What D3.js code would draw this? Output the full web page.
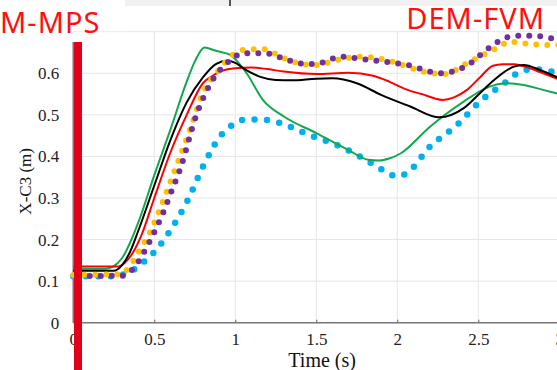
<!DOCTYPE html>
<html>
<head>
<meta charset="utf-8">
<script src="https://cdn.jsdelivr.net/npm/d3@7"></script>
<style>
  body { margin: 0; background: #fff; }
  svg { display: block; }
  .tick text { font-family: "Liberation Serif", serif; font-size: 17px; fill: #222; }
  .grid line { stroke: #e6e6e6; stroke-width: 1; }
  .tag { font-family: "Noto Sans", sans-serif; font-size: 29px; fill: #ff1010; letter-spacing: 1px; }
</style>
</head>
<body>
<script>
// tick labels
var xTicks = [0, 0.5, 1, 1.5, 2, 2.5, 3];
var yTicks = [0, 0.1, 0.2, 0.3, 0.4, 0.5, 0.6];
var yGrid = [0.1, 0.2, 0.3, 0.4, 0.5, 0.6, 0.7];

// series (time, value)
var blackT = [0, 0.25, 0.3, 0.35, 0.4, 0.5, 0.6, 0.7, 0.8, 0.88, 0.95, 1.0, 1.05, 1.15, 1.25, 1.35, 1.5, 1.6, 1.75, 1.9, 2.08, 2.26, 2.41, 2.51, 2.61, 2.72, 2.78, 2.88, 3.0];
var blackV = [0.125, 0.125, 0.138, 0.17, 0.22, 0.33, 0.44, 0.53, 0.59, 0.622, 0.63, 0.625, 0.612, 0.592, 0.584, 0.583, 0.587, 0.588, 0.576, 0.548, 0.52, 0.494, 0.516, 0.552, 0.588, 0.616, 0.62, 0.608, 0.588];

var redT = [0, 0.27, 0.32, 0.37, 0.42, 0.5, 0.6, 0.7, 0.8, 0.86, 0.92, 1.0, 1.1, 1.2, 1.3, 1.5, 1.7, 1.85, 1.95, 2.05, 2.15, 2.28, 2.35, 2.43, 2.51, 2.59, 2.65, 2.72, 2.82, 2.9, 3.0];
var redV = [0.135, 0.135, 0.145, 0.17, 0.21, 0.3, 0.41, 0.5, 0.576, 0.594, 0.606, 0.612, 0.614, 0.61, 0.604, 0.598, 0.601, 0.594, 0.58, 0.562, 0.55, 0.536, 0.542, 0.56, 0.59, 0.618, 0.622, 0.622, 0.612, 0.6, 0.585];

var greenT = [0, 0.2, 0.25, 0.3, 0.4, 0.5, 0.6, 0.7, 0.75, 0.81, 0.88, 0.97, 1.02, 1.07, 1.17, 1.3, 1.5, 1.7, 1.82, 1.89, 1.95, 2.02, 2.2, 2.41, 2.57, 2.68, 2.78, 2.9, 3.0];
var greenV = [0.13, 0.13, 0.136, 0.155, 0.24, 0.355, 0.465, 0.58, 0.628, 0.662, 0.654, 0.644, 0.625, 0.6, 0.536, 0.496, 0.456, 0.415, 0.392, 0.39, 0.395, 0.407, 0.471, 0.532, 0.568, 0.576, 0.572, 0.56, 0.55];

var blueT = [0, 0.25, 0.3, 0.35, 0.41, 0.5, 0.6, 0.7, 0.8, 0.9, 1.0, 1.07, 1.19, 1.34, 1.46, 1.63, 1.81, 1.92, 2.0, 2.06, 2.2, 2.37, 2.51, 2.66, 2.76, 2.84, 2.96, 3.0];
var blueV = [0.112, 0.112, 0.115, 0.122, 0.139, 0.17, 0.223, 0.29, 0.375, 0.445, 0.48, 0.489, 0.488, 0.471, 0.451, 0.427, 0.391, 0.365, 0.352, 0.36, 0.423, 0.476, 0.532, 0.576, 0.604, 0.61, 0.604, 0.603];

var yellowT = [0, 0.29, 0.35, 0.41, 0.47, 0.52, 0.58, 0.64, 0.72, 0.8, 0.9, 0.97, 1.05, 1.11, 1.17, 1.3, 1.42, 1.5, 1.63, 1.77, 1.91, 2.0, 2.16, 2.3, 2.41, 2.51, 2.63, 2.69, 2.78, 2.92, 3.0];
var yellowV = [0.115, 0.117, 0.136, 0.175, 0.215, 0.259, 0.319, 0.38, 0.464, 0.552, 0.608, 0.64, 0.656, 0.658, 0.658, 0.636, 0.622, 0.62, 0.632, 0.64, 0.634, 0.624, 0.604, 0.598, 0.62, 0.64, 0.664, 0.676, 0.672, 0.668, 0.668];

var purpleT = [0, 0.3, 0.37, 0.43, 0.49, 0.55, 0.6, 0.66, 0.76, 0.86, 0.95, 1.05, 1.12, 1.19, 1.32, 1.44, 1.52, 1.65, 1.79, 1.92, 2.06, 2.27, 2.45, 2.55, 2.66, 2.72, 2.85, 2.97, 3.0];
var purpleV = [0.112, 0.113, 0.13, 0.165, 0.21, 0.26, 0.31, 0.37, 0.5, 0.584, 0.625, 0.648, 0.648, 0.648, 0.632, 0.622, 0.624, 0.64, 0.634, 0.628, 0.62, 0.6, 0.624, 0.656, 0.684, 0.69, 0.69, 0.684, 0.684];

var W = 557, H = 370;

var x = d3.scaleLinear().domain([0, 3]).range([73.3, 559.3]);
var y = d3.scaleLinear().domain([0, 0.7]).range([322.7, 31.7]);

var svg = d3.select("body").append("svg")
    .attr("width", W)
    .attr("height", H);

svg.append("rect").attr("width", W).attr("height", H).attr("fill", "#fff");

// faint strip of the screenshot above the plot
svg.append("rect")
    .attr("x", 125).attr("y", 0).attr("width", W - 125).attr("height", 6)
    .attr("fill", "#f1f1f1");
svg.append("rect")
    .attr("x", 229).attr("y", 0).attr("width", 2).attr("height", 6)
    .attr("fill", "#555");

// grid
var grid = svg.append("g").attr("class", "grid");
grid.selectAll(".h").data(yGrid).enter().append("line")
    .attr("x1", x(0)).attr("x2", W)
    .attr("y1", d => y(d)).attr("y2", d => y(d));
grid.selectAll(".v").data(xTicks.slice(1)).enter().append("line")
    .attr("x1", d => x(d)).attr("x2", d => x(d))
    .attr("y1", y(0.7)).attr("y2", y(0));

// axes
var xAxis = d3.axisBottom(x)
    .tickValues(xTicks)
    .tickFormat(d => String(d))
    .tickSizeInner(-3)
    .tickSizeOuter(0)
    .tickPadding(10);

var yAxis = d3.axisLeft(y)
    .tickValues(yTicks)
    .tickFormat(d => d === 0 ? "0" : d.toFixed(1))
    .tickSizeInner(0)
    .tickSizeOuter(0)
    .tickPadding(14);

var gx = svg.append("g")
    .attr("transform", "translate(0," + y(0) + ")")
    .call(xAxis);
gx.select(".domain").remove();
gx.selectAll(".tick line").attr("stroke", "#666");
gx.append("line")
    .attr("x1", x(0)).attr("x2", W)
    .attr("stroke", "#777").attr("stroke-width", 1.6);

var gy = svg.append("g")
    .attr("transform", "translate(" + x(0) + ",0)")
    .call(yAxis);
gy.select(".domain").remove();
gy.append("line")
    .attr("y1", y(0)).attr("y2", y(0.675))
    .attr("stroke", "#777").attr("stroke-width", 1.6);

svg.append("text")
    .attr("x", (x(0) + W) / 2 + 7)
    .attr("y", 367)
    .attr("text-anchor", "middle")
    .style("font-family", "Liberation Serif, serif")
    .style("font-size", "20px")
    .attr("fill", "#111")
    .text("Time (s)");

svg.append("text")
    .attr("transform", "translate(31," + y(0.34) + ") rotate(-90)")
    .attr("text-anchor", "middle")
    .style("font-family", "Liberation Serif, serif")
    .style("font-size", "17px")
    .attr("fill", "#111")
    .text("X-C3 (m)");

// lines
function pts(ts, vs) { return ts.map((t, i) => [t, vs[i]]); }

var line = d3.line()
    .x(d => x(d[0]))
    .y(d => y(d[1]))
    .curve(d3.curveMonotoneX);

var plot = svg.append("g");

plot.append("path")
    .datum(pts(blueT, blueV))
    .attr("d", line)
    .attr("fill", "none")
    .attr("stroke", "#00b0f0")
    .attr("stroke-width", 6.5)
    .attr("stroke-linecap", "round")
    .attr("stroke-dasharray", "0,12.5");

plot.append("path")
    .datum(pts(greenT, greenV))
    .attr("d", line)
    .attr("fill", "none")
    .attr("stroke", "#12a84f")
    .attr("stroke-width", 2);

plot.append("path")
    .datum(pts(redT, redV))
    .attr("d", line)
    .attr("fill", "none")
    .attr("stroke", "#ff0000")
    .attr("stroke-width", 2);

plot.append("path")
    .datum(pts(blackT, blackV))
    .attr("d", line)
    .attr("fill", "none")
    .attr("stroke", "#000")
    .attr("stroke-width", 2);

plot.append("path")
    .datum(pts(yellowT, yellowV))
    .attr("d", line)
    .attr("fill", "none")
    .attr("stroke", "#ffc000")
    .attr("stroke-width", 6)
    .attr("stroke-linecap", "round")
    .attr("stroke-dasharray", "0,11");

plot.append("path")
    .datum(pts(purpleT, purpleV))
    .attr("d", line)
    .attr("fill", "none")
    .attr("stroke", "#7030a0")
    .attr("stroke-width", 6)
    .attr("stroke-linecap", "round")
    .attr("stroke-dasharray", "0,11")
    .attr("stroke-dashoffset", 5.5);

// overlays from the source image
svg.append("rect")
    .attr("x", 0).attr("y", 0).attr("width", 125).attr("height", y(0.7) - 0.5)
    .attr("fill", "#fff");

svg.append("text")
    .attr("class", "tag")
    .attr("x", 0).attr("y", 33)
    .text("M-MPS");

svg.append("text")
    .attr("class", "tag")
    .attr("x", 545).attr("y", 29)
    .attr("text-anchor", "end")
    .text("DEM-FVM");

svg.append("rect")
    .attr("x", 74).attr("y", 42).attr("width", 8).attr("height", H - 42)
    .attr("fill", "#e2001a");
</script>
</body>
</html>
